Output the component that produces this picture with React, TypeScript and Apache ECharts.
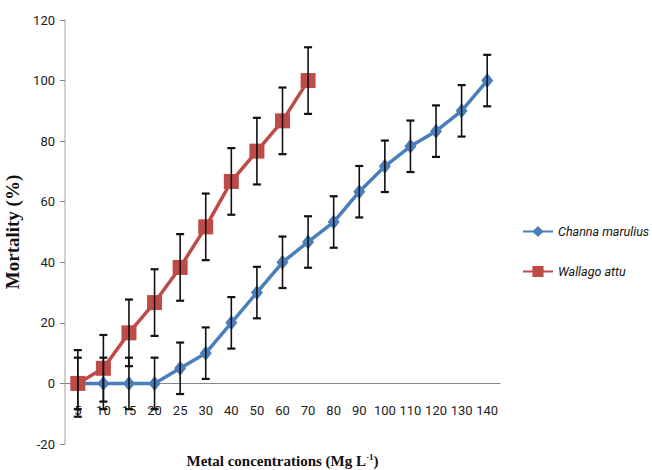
import React, { useEffect, useRef } from "react";
import * as echarts from "echarts";

const categories = ["5", "10", "15", "20", "25", "30", "40", "50", "60", "70", "80", "90", "100", "110", "120", "130", "140"];
const channaValues = [0, 0, 0, 0, 5, 10, 20, 30, 40, 46.7, 53.3, 63.3, 71.7, 78.3, 83.3, 90, 100];
const channaErrors = [8.5, 8.5, 8.5, 8.5, 8.5, 8.5, 8.5, 8.5, 8.5, 8.5, 8.5, 8.5, 8.5, 8.5, 8.5, 8.5, 8.5];
const wallagoValues = [0, 5, 16.7, 26.7, 38.3, 51.7, 66.7, 76.7, 86.7, 100];
const wallagoErrors = [11, 11, 11, 11, 11, 11, 11, 11, 11, 11];

const NARROW = "Roboto, 'Open Sans', sans-serif";
const SERIF = "'Liberation Serif', 'DejaVu Serif', serif";

function errorSeries(values: number[], errs: number[]) {
  return {
    type: "custom",
    z: 5,
    silent: true,
    data: values.map((v, i) => [i, v, errs[i]]),
    renderItem: (params: any, api: any) => {
      const x = api.value(0);
      const y = api.value(1);
      const e = api.value(2);
      const top = api.coord([x, y + e]);
      const bot = api.coord([x, y - e]);
      const hw = 4;
      const st = { stroke: "#111", lineWidth: 1.6 };
      return {
        type: "group",
        children: [
          { type: "line", shape: { x1: top[0], y1: top[1], x2: bot[0], y2: bot[1] }, style: st },
          { type: "line", shape: { x1: top[0] - hw, y1: top[1], x2: top[0] + hw, y2: top[1] }, style: { stroke: "#111", lineWidth: 2.2 } },
          { type: "line", shape: { x1: bot[0] - hw, y1: bot[1], x2: bot[0] + hw, y2: bot[1] }, style: { stroke: "#111", lineWidth: 2.2 } },
        ],
      };
    },
  };
}

export default function App() {
  const ref = useRef<HTMLDivElement>(null);
  useEffect(() => {
    if (!ref.current) return;
    const chart = echarts.init(ref.current, undefined, { renderer: "svg" });
    chart.setOption({
      animation: false,
      backgroundColor: "#ffffff",
      grid: { left: 65, right: 152, top: 20, bottom: 26, containLabel: false, outerBoundsMode: "none" },
      legend: {
        orient: "vertical",
        left: 517,
        top: 220,
        itemWidth: 30,
        itemHeight: 14,
        itemGap: 27,
        data: ["Channa marulius", "Wallago attu"],
        textStyle: { fontFamily: NARROW, fontStyle: "italic", fontSize: 12.5, color: "#111" },
      },
      xAxis: {
        type: "category",
        data: categories,
        boundaryGap: true,
        axisLine: { onZero: true, lineStyle: { color: "#868686", width: 1 } },
        axisTick: { show: false },
        axisLabel: { fontFamily: NARROW, fontSize: 13, color: "#222", margin: -40, interval: 0 },
        name: "Metal concentrations (Mg L{sup|-1})",
        nameLocation: "middle",
        nameGap: 8,
        nameMoveOverlap: false,
        nameTextStyle: {
          fontFamily: SERIF,
          fontWeight: "bold",
          fontSize: 15,
          color: "#111",
          rich: {
            sup: { fontFamily: SERIF, fontWeight: "bold", fontSize: 9, verticalAlign: "top", padding: [0, 0, 8, 0], color: "#111" },
          },
        },
      },
      yAxis: {
        type: "value",
        min: -20,
        max: 120,
        interval: 20,
        splitLine: { show: false },
        axisLine: { show: true, lineStyle: { color: "#bfbfbf", width: 1.5 } },
        axisTick: { show: true, length: 5, lineStyle: { color: "#868686" } },
        axisLabel: { fontFamily: NARROW, fontSize: 13, color: "#222", margin: 10 },
        name: "Mortality (%)",
        nameLocation: "middle",
        nameGap: 32,
        nameTextStyle: { fontFamily: SERIF, fontWeight: "bold", fontSize: 19, color: "#111" },
      },
      series: [
        {
          name: "Channa marulius",
          type: "line",
          data: channaValues,
          symbol: "diamond",
          symbolSize: [12, 15],
          itemStyle: { color: "#4a7ebb" },
          lineStyle: { color: "#4a7ebb", width: 3.5 },
          z: 3,
        },
        {
          name: "Wallago attu",
          type: "line",
          data: wallagoValues,
          symbol: "rect",
          symbolSize: 15,
          itemStyle: { color: "#be4b48" },
          lineStyle: { color: "#be4b48", width: 3.5 },
          z: 4,
        },
        errorSeries(channaValues, channaErrors),
        errorSeries(wallagoValues, wallagoErrors),
      ],
    });
    return () => chart.dispose();
  }, []);
  return <div ref={ref} style={{ width: 652, height: 470, position: "absolute", left: 0, top: 0 }} />;
}
